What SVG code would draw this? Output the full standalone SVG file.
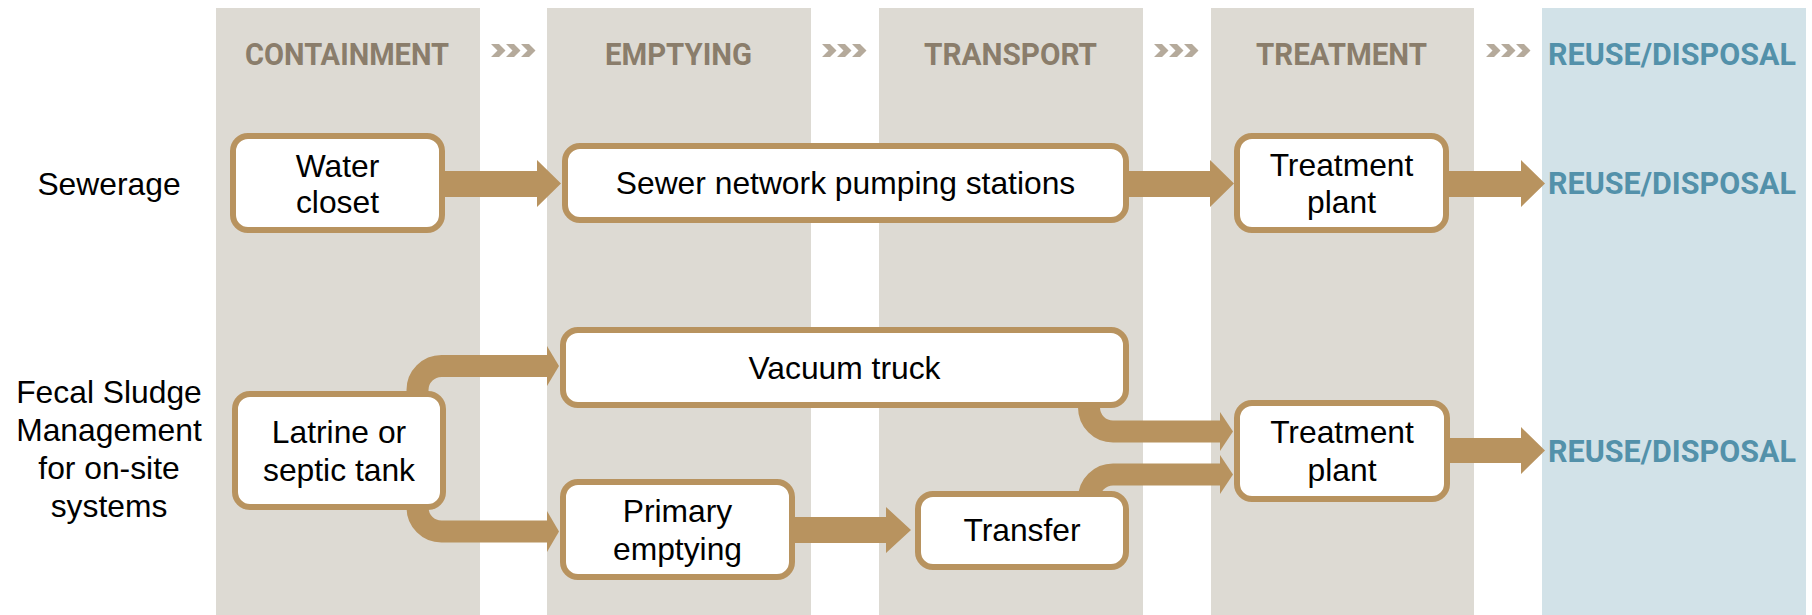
<svg xmlns="http://www.w3.org/2000/svg" width="1812" height="615" viewBox="0 0 1812 615">
<defs>
<style>
.col{fill:#dddad3}
.colb{fill:#d2e2e8}
.hd{font-family:Roboto,"DejaVu Sans",sans-serif;font-weight:bold;font-size:31px;fill:#8a7d6b}
.hdb{font-family:Roboto,"DejaVu Sans",sans-serif;font-weight:bold;font-size:31px;fill:#5391aa}
.chev{fill:#b5aa9b}
.box{fill:#ffffff;stroke:#b8935f;stroke-width:6}
.t{font-family:"Liberation Sans",Arial,sans-serif;font-size:31.8px;fill:#000000;text-anchor:middle}
.ar{fill:#b8935f}
.cv{fill:none;stroke:#b8935f;stroke-width:22}
</style>
<path id="chv" d="M0 0 H8 L14.5 6.5 L8 13 H0 L6.5 6.5 Z"/>
</defs>
<rect width="1812" height="615" fill="#ffffff"/>
<g id="columns">
<rect class="col" x="216" y="8" width="264" height="607"/>
<rect class="col" x="547" y="8" width="264" height="607"/>
<rect class="col" x="879" y="8" width="264" height="607"/>
<rect class="col" x="1211" y="8" width="263" height="607"/>
<rect class="colb" x="1542" y="8" width="264" height="607"/>
</g>
<g id="headers">
<text class="hd" x="245" y="65" textLength="204" lengthAdjust="spacingAndGlyphs">CONTAINMENT</text>
<text class="hd" x="605" y="65" textLength="147" lengthAdjust="spacingAndGlyphs">EMPTYING</text>
<text class="hd" x="924" y="65" textLength="173" lengthAdjust="spacingAndGlyphs">TRANSPORT</text>
<text class="hd" x="1256" y="65" textLength="171" lengthAdjust="spacingAndGlyphs">TREATMENT</text>
<text class="hdb" x="1548" y="65" textLength="248" lengthAdjust="spacingAndGlyphs">REUSE/DISPOSAL</text>
</g>
<g id="chevrons" class="chev">
<use href="#chv" x="491" y="44"/><use href="#chv" x="506" y="44"/><use href="#chv" x="521" y="44"/>
<use href="#chv" x="822" y="44"/><use href="#chv" x="837" y="44"/><use href="#chv" x="852" y="44"/>
<use href="#chv" x="1154" y="44"/><use href="#chv" x="1169" y="44"/><use href="#chv" x="1184" y="44"/>
<use href="#chv" x="1486" y="44"/><use href="#chv" x="1501" y="44"/><use href="#chv" x="1516" y="44"/>
</g>
<g id="row-labels">
<text class="t" x="109" y="195">Sewerage</text>
<text class="t" x="109" y="403">Fecal Sludge</text>
<text class="t" x="109" y="441">Management</text>
<text class="t" x="109" y="479">for on-site</text>
<text class="t" x="109" y="517">systems</text>
</g>
<g id="connectors">
<polygon class="ar" points="440,171 537,171 537,160 561,183.5 537,207 537,197 440,197"/>
<polygon class="ar" points="1125,171 1210,171 1210,160 1234,183.5 1210,207 1210,197 1125,197"/>
<polygon class="ar" points="1445,171 1521,171 1521,160 1545,183.5 1521,207 1521,197 1445,197"/>
<path class="cv" d="M417.5 400 L417.5 390 A24 24 0 0 1 441.5 366 L548 366"/>
<polygon class="ar" points="547,346 559,366 547,386"/>
<path class="cv" d="M417.5 500 L417.5 507.5 A24 24 0 0 0 441.5 531.5 L548 531.5"/>
<polygon class="ar" points="547,511 559,531.5 547,552"/>
<polygon class="ar" points="790,517 886,517 886,507 911,530 886,553 886,543 790,543"/>
<path class="cv" d="M1089 400 L1089 407.5 A24 24 0 0 0 1113 431.5 L1221 431.5"/>
<polygon class="ar" points="1220,412 1233,431.5 1220,451"/>
<path class="cv" d="M1089 500 L1089 498.5 A24 24 0 0 1 1113 474.5 L1221 474.5"/>
<polygon class="ar" points="1220,455 1233,474.5 1220,494"/>
<polygon class="ar" points="1445,438 1521,438 1521,427 1545,450.5 1521,474 1521,463 1445,463"/>
</g>
<g id="n-water-closet"><rect class="box" x="233" y="136" width="209" height="94" rx="15"/><text class="t" x="337.5" y="177">Water</text><text class="t" x="337.5" y="213">closet</text></g>
<g id="n-sewer"><rect class="box" x="565" y="146" width="561" height="74" rx="15"/><text class="t" x="845.5" y="194">Sewer network pumping stations</text></g>
<g id="n-treatment-1"><rect class="box" x="1237" y="136" width="209" height="94" rx="15"/><text class="t" x="1341.5" y="176">Treatment</text><text class="t" x="1341.5" y="213">plant</text></g>
<g id="n-reuse-1"><text class="hdb" x="1548" y="194" textLength="248" lengthAdjust="spacingAndGlyphs">REUSE/DISPOSAL</text></g>
<g id="n-latrine"><rect class="box" x="235" y="394" width="208" height="113" rx="15"/><text class="t" x="339" y="443">Latrine or</text><text class="t" x="339" y="481">septic tank</text></g>
<g id="n-vacuum"><rect class="box" x="563" y="330" width="563" height="75" rx="15"/><text class="t" x="844.5" y="379">Vacuum truck</text></g>
<g id="n-primary"><rect class="box" x="563" y="482" width="229" height="95" rx="15"/><text class="t" x="677.5" y="522">Primary</text><text class="t" x="677.5" y="560">emptying</text></g>
<g id="n-transfer"><rect class="box" x="918" y="494" width="208" height="73" rx="15"/><text class="t" x="1022" y="541">Transfer</text></g>
<g id="n-treatment-2"><rect class="box" x="1237" y="403" width="210" height="96" rx="15"/><text class="t" x="1342" y="443">Treatment</text><text class="t" x="1342" y="481">plant</text></g>
<g id="n-reuse-2"><text class="hdb" x="1548" y="462" textLength="248" lengthAdjust="spacingAndGlyphs">REUSE/DISPOSAL</text></g>
</svg>
